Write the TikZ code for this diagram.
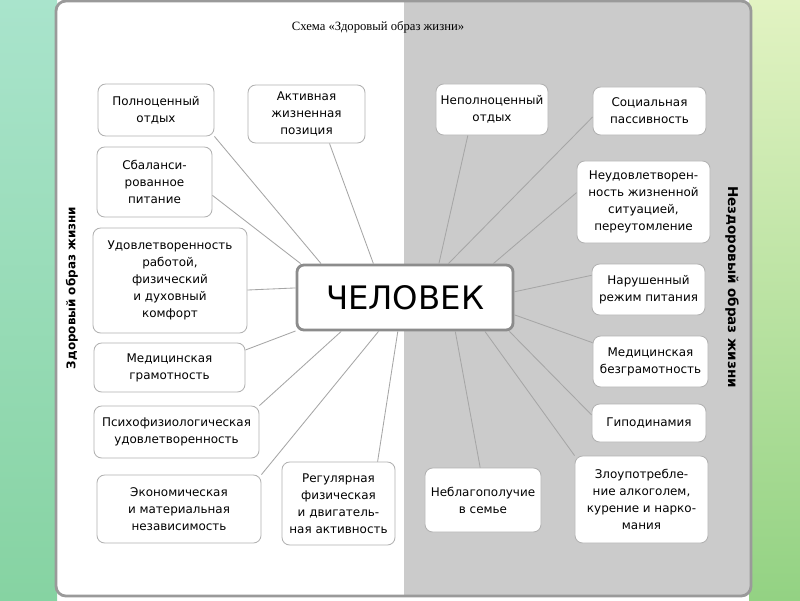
\documentclass[tikz,border=0pt]{standalone}
\usepackage{fontspec}
\setmainfont{DejaVu Sans}
\newfontfamily\titlefont{Liberation Serif}
\usepackage{tikz}
\usetikzlibrary{calc}
\definecolor{mintbg}{HTML}{A9E4CC}
\definecolor{mintdark}{HTML}{86D3A2}
\definecolor{limebg}{HTML}{E2F3C2}
\definecolor{limedark}{HTML}{93D283}
\definecolor{panelline}{HTML}{9A9A9A}
\definecolor{sidegray}{HTML}{CBCBCB}
\definecolor{boxline}{HTML}{B2B2B2}
\definecolor{coreline}{HTML}{8C8C8C}
\definecolor{linkgray}{HTML}{A6A6A6}
\newcommand{\boxfont}{\fontsize{8.5}{12}\selectfont}

\begin{document}
\begin{tikzpicture}[x=0.025cm, y=-0.025cm,
  factor/.style={draw=boxline, fill=white, rounded corners=5.5pt, line width=0.6pt,
    align=center, inner sep=2pt, font=\boxfont},
  person/.style={draw=coreline, fill=white, rounded corners=5pt, line width=2pt,
    font=\fontsize{23}{26}\selectfont, minimum width=5.4cm, minimum height=1.625cm},
  link/.style={draw=linkgray, line width=0.6pt},
  side/.style={font=\bfseries\fontsize{8.5}{10}\selectfont}]
  \useasboundingbox (0,0) rectangle (800,600);
  % background
  \shade[top color=mintbg, bottom color=mintdark] (0,0) rectangle (57,600);
  \shade[top color=limebg, bottom color=limedark] (749,0) rectangle (800,600);
  % panel, white left half and gray right half
  \fill[white, rounded corners=7pt] (56,1) rectangle (751,596);
  \begin{scope}
    \clip[rounded corners=7pt] (56,1) rectangle (751,596);
    \fill[sidegray] (404,0) rectangle (760,600);
  \end{scope}
  \draw[panelline, line width=2pt, rounded corners=7pt] (56,1) rectangle (751,596);

  \node[font=\titlefont\fontsize{9}{11}\selectfont] (title) at (378,27) {Схема «Здоровый образ жизни»};
  \node[side, rotate=90] (healthy) at (72,288) {Здоровый образ жизни};
  \node[side, rotate=-90, font=\bfseries\fontsize{9.6}{11}\selectfont] (unhealthy) at (732,287) {Нездоровый образ жизни};

  \node[person] (man) at (405,297.5) {ЧЕЛОВЕК};

  % healthy side
  \node[factor, minimum width=2.9cm, minimum height=1.3cm] (rest) at (156,110) {Полноценный\\отдых};
  \node[factor, minimum width=2.925cm, minimum height=1.45cm] (active) at (306.5,114) {Активная\\жизненная\\позиция};
  \node[factor, minimum width=2.875cm, minimum height=1.75cm] (food) at (154.5,182) {Сбаланси-\\рованное\\питание};
  \node[factor, minimum width=3.85cm, minimum height=2.625cm] (comfort) at (170,280.5) {Удовлетворенность\\работой,\\физический\\и духовный\\комфорт};
  \node[factor, minimum width=3.775cm, minimum height=1.225cm] (medlit) at (169.5,367.5) {Медицинская\\грамотность};
  \node[factor, minimum width=4.125cm, minimum height=1.3cm] (psycho) at (176.5,432) {Психофизиологическая\\удовлетворенность};
  \node[factor, minimum width=4.1cm, minimum height=1.7cm] (econ) at (179,509) {Экономическая\\и материальная\\независимость};
  \node[factor, minimum width=2.825cm, minimum height=2.075cm] (sport) at (338.5,503.5) {Регулярная\\физическая\\и двигатель-\\ная активность};

  % unhealthy side
  \node[factor, minimum width=2.8cm, minimum height=1.275cm] (badrest) at (492,109.5) {Неполноценный\\отдых};
  \node[factor, minimum width=2.825cm, minimum height=1.2cm] (passive) at (649.5,111) {Социальная\\пассивность};
  \node[factor, minimum width=3.325cm, minimum height=2.05cm] (tired) at (643.5,202) {Неудовлетворен-\\ность жизненной\\ситуацией,\\переутомление};
  \node[factor, minimum width=2.825cm, minimum height=1.275cm] (badfood) at (648.5,289.5) {Нарушенный\\режим питания};
  \node[factor, minimum width=2.875cm, minimum height=1.275cm] (medill) at (650.5,361.5) {Медицинская\\безграмотность};
  \node[factor, minimum width=2.85cm, minimum height=0.95cm] (hypo) at (649,423) {Гиподинамия};
  \node[factor, minimum width=3.325cm, minimum height=2.175cm] (abuse) at (641.5,499.5) {Злоупотребле-\\ние алкоголем,\\курение и нарко-\\мания};
  \node[factor, minimum width=2.9cm, minimum height=1.6cm] (family) at (483,500) {Неблагополучие\\в семье};

  % connectors
  \draw[link] (man.158) -- (rest.south east);
  \draw[link] (man.133) -- (active.308);
  \draw[link] (man.162) -- (food.347);
  \draw[link] (man.175) -- (comfort.353);
  \draw[link] (man.197) -- (medlit.13);
  \draw[link] (man.208) -- (psycho.north east);
  \draw[link] (man.232) -- (econ.north east);
  \draw[link] (man.258) -- (sport.47);
  \draw[link] (man.45) -- (badrest.227);
  \draw[link] (man.38) -- (passive.186);
  \draw[link] (man.21) -- (tired.172);
  \draw[link] (man.3) -- (badfood.166);
  \draw[link] (man.351) -- (medill.162);
  \draw[link] (man.342) -- (hypo.172);
  \draw[link] (man.337) -- (abuse.north west);
  \draw[link] (man.326) -- (family.95);
\end{tikzpicture}
\end{document}
